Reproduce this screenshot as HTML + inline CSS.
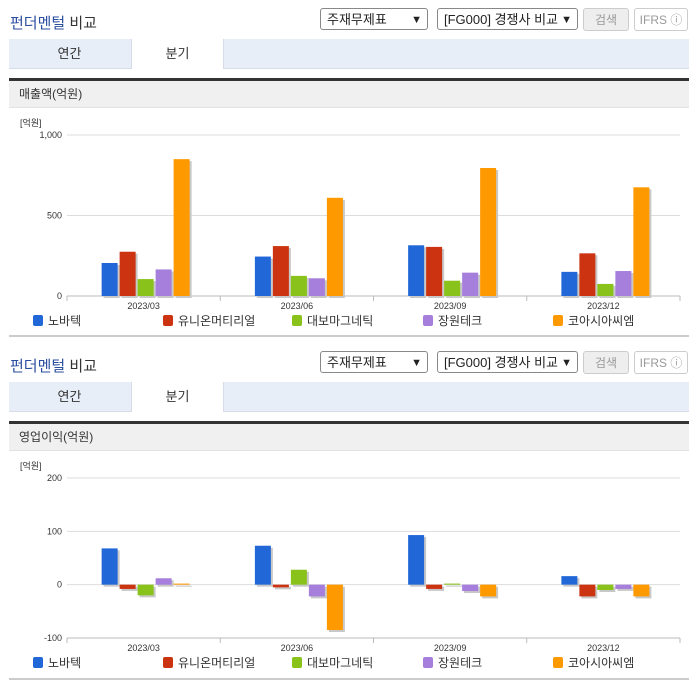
<!DOCTYPE html>
<html><head><meta charset="utf-8">
<style>
body{margin:0;width:696px;height:684px;background:#fff;font-family:"Liberation Sans","Noto Sans CJK KR",sans-serif;position:relative;overflow:hidden}
.sec{position:absolute;left:0;width:696px;height:342px}
.title{position:absolute;left:10px;top:12px;font-size:15px;color:#333}
.title b{font-weight:normal;color:#2a4ea0}
.sel{position:absolute;top:8px;height:22px;border:1px solid #888;border-radius:3px;background:#fff;font-size:13px;line-height:22px;padding-left:6px;box-sizing:border-box;color:#222}
.sel span{position:absolute;right:5px;top:0;font-size:11px}
.btn{position:absolute;top:8px;height:23px;border:1px solid #ccc;border-radius:3px;font-size:12px;line-height:22px;text-align:center;color:#999;box-sizing:border-box}
.tabs{position:absolute;left:9px;top:39px;width:680px;height:29px;background:#e8eef7;border-bottom:1px solid #d6dde8}
.tab{position:absolute;top:0;height:29px;line-height:29px;font-size:13px;text-align:center;color:#333}
.bar{position:absolute;left:9px;top:78px;width:680px;height:3px;background:#333}
.hdr{position:absolute;left:9px;top:81px;width:680px;height:27px;background:#f0f0f0;font-size:12px;line-height:27px;padding-left:10px;box-sizing:border-box;color:#333;border-bottom:1px solid #e2e2e2}
.foot{position:absolute;left:9px;top:335px;width:680px;height:2px;background:#ccc}
svg{position:absolute;left:0;top:110px}
</style></head><body>
<div class="sec" id="s1" style="top:0">
<div class="title"><b>펀더멘털</b> 비교</div>
<div class="sel" style="left:320px;width:108px">주재무제표<span>▼</span></div>
<div class="sel" style="left:437px;width:141px">[FG000] 경쟁사 비교<span>▼</span></div>
<div class="btn" style="left:583px;width:46px;background:#eee">검색</div>
<div class="btn" style="left:634px;width:54px;background:#fff">IFRS ⓘ</div>
<div class="tabs">
<div class="tab" style="left:0;width:121px">연간</div>
<div class="tab" style="left:122px;width:91px;background:#fff;height:30px;border-left:1px solid #d6dde8;border-right:1px solid #d6dde8">분기</div>
</div>
<div class="bar"></div>
<div class="hdr">매출액(억원)</div>
<svg id="c1" width="696" height="225"></svg>
<div class="foot"></div>
</div>
<div class="sec" id="s2" style="top:343px">
<div class="title"><b>펀더멘털</b> 비교</div>
<div class="sel" style="left:320px;width:108px">주재무제표<span>▼</span></div>
<div class="sel" style="left:437px;width:141px">[FG000] 경쟁사 비교<span>▼</span></div>
<div class="btn" style="left:583px;width:46px;background:#eee">검색</div>
<div class="btn" style="left:634px;width:54px;background:#fff">IFRS ⓘ</div>
<div class="tabs">
<div class="tab" style="left:0;width:121px">연간</div>
<div class="tab" style="left:122px;width:91px;background:#fff;height:30px;border-left:1px solid #d6dde8;border-right:1px solid #d6dde8">분기</div>
</div>
<div class="bar"></div>
<div class="hdr">영업이익(억원)</div>
<svg id="c2" width="696" height="225"></svg>
<div class="foot"></div>
</div>
<script>
const categories=["2023/03","2023/06","2023/09","2023/12"];
const seriesNames=["노바텍","유니온머티리얼","대보마그네틱","장원테크","코아시아씨엠"];
const colors=["#2267d8","#cc3311","#88c21a","#a57fdb","#ff9900"];
const revenue=[[205,245,315,150],[275,310,305,265],[105,125,95,75],[165,110,145,155],[850,610,795,675]];
const opIncome=[[68,73,93,16],[-8,-5,-8,-22],[-20,28,2,-10],[12,-22,-12,-8],[2,-85,-22,-22]];
const revTicks=[0,500,1000];
const revTickLabels=["0","500","1,000"];
const opTicks=[-100,0,100,200];
const opTickLabels=["-100","0","100","200"];
const NS="http://www.w3.org/2000/svg";
function mk(svg,tag,attrs,name){const e=document.createElementNS(NS,tag);for(const k in attrs)e.setAttribute(k,attrs[k]);


svg.appendChild(e);return e;}
function draw(id,data,ticks,labels,min,max,yTop,yBot){
const svg=document.getElementById(id);
const x0=67,x1=680,cw=(x1-x0)/categories.length;
const y=v=>yBot-(v-min)/(max-min)*(yBot-yTop);
const t=mk(svg,'text',{x:20,y:yTop-9,'font-size':9,fill:'#333'},'y-axis-unit');t.textContent='[억원]';
ticks.forEach((v,i)=>{mk(svg,'line',{x1:x0,x2:x1,y1:y(v),y2:y(v),stroke:'#ddd'},'gridline');
const l=mk(svg,'text',{x:x0-5,y:y(v)+3,'font-size':9,fill:'#333','text-anchor':'end'},'y-tick-label');l.textContent=labels[i];});
const yb=y(min);
mk(svg,'line',{x1:x0,x2:x1,y1:yb,y2:yb,stroke:'#bbb'},'x-axis');
categories.forEach((c,ci)=>{const cx=x0+cw*(ci+0.5);
mk(svg,'line',{x1:x0+cw*ci,x2:x0+cw*ci,y1:yb,y2:yb+5,stroke:'#bbb'},'x-tick');
const l=mk(svg,'text',{x:cx,y:yb+13,'font-size':9,fill:'#333','text-anchor':'middle'},'x-tick-label');l.textContent=c;
data.forEach((s,si)=>{const v=s[ci];const bx=cx-42+si*18;const ya=y(Math.max(v,0)),yz=y(Math.min(v,0));
mk(svg,'rect',{x:bx+2,y:ya+2,width:16,height:Math.max(yz-ya,1),fill:'#c8c8c8'},'bar-shadow');
mk(svg,'rect',{x:bx,y:ya,width:16,height:Math.max(yz-ya,1),fill:colors[si]},'bar-'+si+'-'+ci);});});
mk(svg,'line',{x1:x1,x2:x1,y1:yb,y2:yb+5,stroke:'#bbb'},'x-tick');
const lx=[33,163,292,423,553];
seriesNames.forEach((n,i)=>{mk(svg,'rect',{x:lx[i],y:yb+19,width:10,height:11,rx:2,fill:colors[i]},'legend-swatch');
const l=mk(svg,'text',{x:lx[i]+15,y:yb+29,'font-size':12,fill:'#333'},'legend-entry');l.textContent=n;});
}
draw('c1',revenue,revTicks,revTickLabels,0,1000,25,186);
draw('c2',opIncome,opTicks,opTickLabels,-100,200,25,185);
</script>
</body></html>
